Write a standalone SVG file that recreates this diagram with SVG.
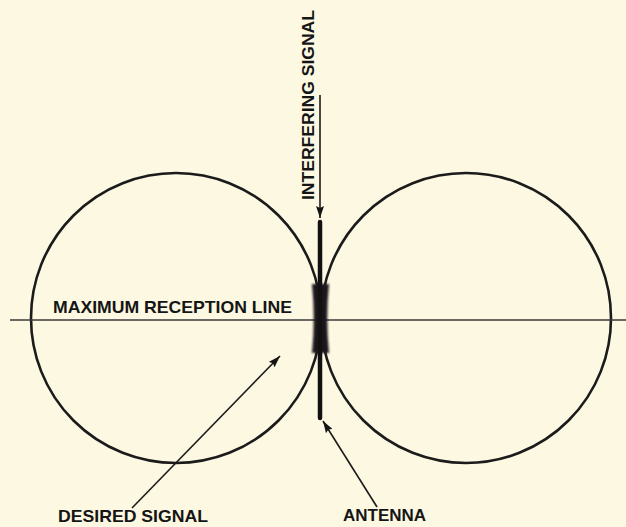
<svg xmlns="http://www.w3.org/2000/svg" width="626" height="527" viewBox="0 0 626 527">
  <defs>
    <style>
      .lobe { fill: none; stroke: #1b1b1b; stroke-width: 2.6; }
      .lbl { font-family: "Liberation Sans", Arial, sans-serif; font-weight: bold; font-size: 17px; fill: #151515; }
      .conn { stroke: #1b1b1b; stroke-width: 1.6; fill: none; }
    </style>
    <marker id="ah" viewBox="0 0 12 8" refX="12" refY="4" markerWidth="12" markerHeight="8" markerUnits="userSpaceOnUse" orient="auto">
      <path d="M0,0 L12,4 L0,8 L2,4 Z" fill="#151515"/>
    </marker>
    <filter id="blur" x="-50%" y="-20%" width="200%" height="140%">
      <feGaussianBlur stdDeviation="0.9"/>
    </filter>
  </defs>
  <rect x="0" y="0" width="626" height="527" fill="#fcf8e1"/>

  <g id="left-lobe">
    <circle class="lobe" cx="176" cy="318" r="145"/>
  </g>
  <g id="right-lobe">
    <circle class="lobe" cx="466" cy="318" r="145"/>
  </g>

  <g id="reception-line">
    <line x1="10" y1="320" x2="626" y2="320" stroke="#3a3a3a" stroke-width="1.5"/>
    <text class="lbl" x="53" y="313" textLength="239" lengthAdjust="spacingAndGlyphs">MAXIMUM RECEPTION LINE</text>
  </g>

  <g id="antenna">
    <path d="M312,284 Q315.5,318 312,353 L329,353 Q325.5,318 329,284 Z" fill="#1f121f" filter="url(#blur)"/>
    <line x1="320" y1="222" x2="320" y2="418" stroke="#111" stroke-width="4.5" stroke-linecap="round"/>
  </g>

  <g id="interfering-signal">
    <text class="lbl" transform="translate(314,200) rotate(-90)" x="0" y="0" textLength="190" lengthAdjust="spacingAndGlyphs">INTERFERING SIGNAL</text>
  </g>

  <g id="desired-signal">
    <text class="lbl" x="58" y="522" textLength="150" lengthAdjust="spacingAndGlyphs">DESIRED SIGNAL</text>
  </g>

  <g id="antenna-label">
    <text class="lbl" x="343" y="521" textLength="83" lengthAdjust="spacingAndGlyphs">ANTENNA</text>
  </g>

  <g id="connectors">
    <line class="conn" x1="320" y1="95" x2="320" y2="218" marker-end="url(#ah)"/>
    <line class="conn" x1="132" y1="508" x2="280" y2="356" marker-end="url(#ah)"/>
    <line class="conn" x1="377" y1="507" x2="323" y2="421" marker-end="url(#ah)"/>
  </g>
</svg>
